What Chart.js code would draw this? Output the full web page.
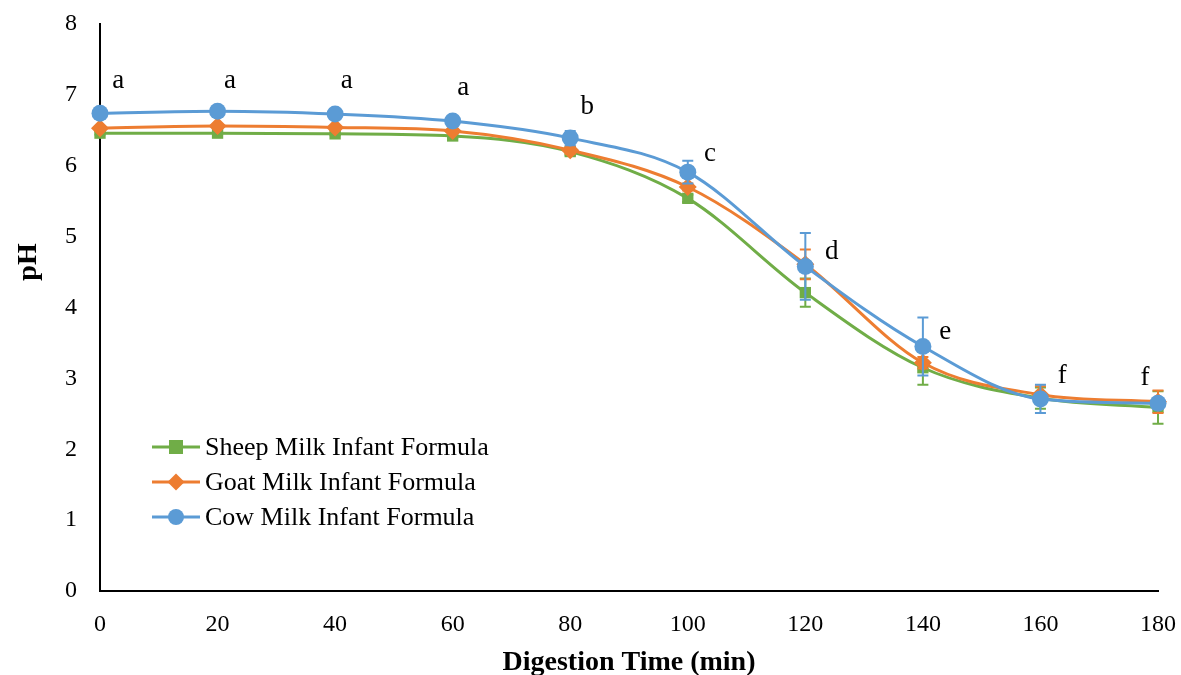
<!DOCTYPE html>
<html>
<head>
<meta charset="utf-8">
<script src="https://cdn.jsdelivr.net/npm/chart.js@4/dist/chart.umd.min.js"></script>
<style>
  html, body { margin: 0; padding: 0; background: #ffffff; }
  #wrap { width: 1181px; height: 675px; }
</style>
</head>
<body>
<div id="wrap"><canvas id="c" width="1181" height="675"></canvas></div>
<script>
// Digestion time points (min)
const times = [0, 20, 40, 60, 80, 100, 120, 140, 160, 180];

// Mean pH and standard deviation per formula
const sheepPH  = [6.46, 6.46, 6.45, 6.42, 6.20, 5.54, 4.21, 3.15, 2.72, 2.59];
const sheepErr = [0.02, 0.02, 0.02, 0.03, 0.05, 0.05, 0.20, 0.24, 0.15, 0.23];
const goatPH   = [6.53, 6.56, 6.54, 6.49, 6.22, 5.70, 4.61, 3.22, 2.77, 2.67];
const goatErr  = [0.02, 0.02, 0.02, 0.03, 0.05, 0.05, 0.21, 0.08, 0.12, 0.16];
const cowPH    = [6.74, 6.77, 6.73, 6.63, 6.39, 5.91, 4.58, 3.45, 2.71, 2.65];
const cowErr   = [0.03, 0.03, 0.03, 0.06, 0.10, 0.16, 0.47, 0.41, 0.20, 0.06];

// Significance letters and their baseline anchor (time, pH)
const letters     = ['a', 'a', 'a', 'a', 'b', 'c', 'd', 'e', 'f', 'f'];
const letterTime  = [3.1, 22.1, 42.0, 61.8, 82.9, 103.8, 124.5, 143.8, 163.7, 177.8];
const letterPH    = [7.10, 7.10, 7.10, 7.00, 6.73, 6.06, 4.68, 3.56, 2.94, 2.90];

const yTicks = [0, 1, 2, 3, 4, 5, 6, 7, 8];
const xTicks = [0, 20, 40, 60, 80, 100, 120, 140, 160, 180];

const FONT = '"Liberation Serif", "Times New Roman", serif';
const GREEN = '#70AD47', ORANGE = '#ED7D31', BLUE = '#5B9BD5';

function pts(ys) { return times.map((t, i) => ({ x: t, y: ys[i] })); }

// Vertical error bars with caps, drawn beneath each series' line and markers
const errorBars = {
  id: 'errorBars',
  beforeDatasetDraw(chart, args) {
    const ds = chart.data.datasets[args.index];
    if (!ds.err) return;
    const { ctx, scales: { x, y } } = chart;
    ctx.save();
    ctx.strokeStyle = ds.borderColor;
    ctx.lineWidth = 2;
    ds.data.forEach((p, i) => {
      const e = ds.err[i];
      const px = x.getPixelForValue(p.x);
      const top = y.getPixelForValue(p.y + e);
      const bot = y.getPixelForValue(p.y - e);
      ctx.beginPath();
      ctx.moveTo(px, top); ctx.lineTo(px, bot);
      ctx.moveTo(px - 5.5, top); ctx.lineTo(px + 5.5, top);
      ctx.moveTo(px - 5.5, bot); ctx.lineTo(px + 5.5, bot);
      ctx.stroke();
    });
    ctx.restore();
  }
};

// Letters marking significant differences, plus the rotated pH axis title
const annotations = {
  id: 'annotations',
  afterDatasetsDraw(chart) {
    const { ctx, scales: { x, y } } = chart;
    ctx.save();
    ctx.fillStyle = '#000';
    ctx.font = '27px ' + FONT;
    ctx.textAlign = 'center';
    ctx.textBaseline = 'alphabetic';
    letters.forEach((l, i) => {
      ctx.fillText(l, x.getPixelForValue(letterTime[i]), y.getPixelForValue(letterPH[i]));
    });
    ctx.translate(29, 262);
    ctx.rotate(-Math.PI / 2);
    ctx.font = 'bold 28px ' + FONT;
    ctx.textBaseline = 'middle';
    ctx.fillText('pH', 0, 0);
    ctx.restore();
  }
};

// Legend placed inside the plot area, lower left
const innerLegend = {
  id: 'innerLegend',
  afterDraw(chart) {
    const { ctx } = chart;
    const x0 = 152, x1 = 200, tx = 205;
    const rows = [447, 482, 517];
    ctx.save();
    chart.data.datasets.forEach((ds, i) => {
      const yy = rows[i];
      ctx.strokeStyle = ds.borderColor;
      ctx.lineWidth = 3;
      ctx.beginPath(); ctx.moveTo(x0, yy); ctx.lineTo(x1, yy); ctx.stroke();
      ctx.fillStyle = ds.borderColor;
      const cx = (x0 + x1) / 2;
      if (ds.pointStyle === 'rect') {
        ctx.fillRect(cx - 7, yy - 7, 14, 14);
      } else if (ds.pointStyle === 'rectRot') {
        ctx.beginPath();
        ctx.moveTo(cx, yy - 8.5); ctx.lineTo(cx + 8.5, yy); ctx.lineTo(cx, yy + 8.5); ctx.lineTo(cx - 8.5, yy);
        ctx.closePath(); ctx.fill();
      } else {
        ctx.beginPath(); ctx.arc(cx, yy, 8, 0, Math.PI * 2); ctx.fill();
      }
      ctx.fillStyle = '#000';
      ctx.font = '26px ' + FONT;
      ctx.textAlign = 'left';
      ctx.textBaseline = 'middle';
      ctx.fillText(ds.label, tx, yy + 1);
    });
    ctx.restore();
  }
};

function series(label, ys, err, color, style, radius, order) {
  return {
    label, data: pts(ys), err,
    borderColor: color, backgroundColor: color,
    borderWidth: 3,
    pointStyle: style, pointRadius: radius, pointHoverRadius: radius,
    pointBorderWidth: 0,
    cubicInterpolationMode: 'monotone',
    clip: false,
    order
  };
}

new Chart(document.getElementById('c'), {
  type: 'line',
  data: {
    datasets: [
      series('Sheep Milk Infant Formula', sheepPH, sheepErr, GREEN, 'rect', 8, 3),
      series('Goat Milk Infant Formula', goatPH, goatErr, ORANGE, 'rectRot', 9, 2),
      series('Cow Milk Infant Formula', cowPH, cowErr, BLUE, 'circle', 8.5, 1)
    ]
  },
  options: {
    responsive: false,
    animation: false,
    devicePixelRatio: 1,
    layout: { padding: { top: 24, right: 23, left: 0, bottom: 0 } },
    plugins: { legend: { display: false }, tooltip: { enabled: false } },
    scales: {
      x: {
        type: 'linear', min: 0, max: 180,
        afterBuildTicks(s) { s.ticks = xTicks.map(v => ({ value: v })); },
        afterFit(s) { s.height = 84; s.paddingLeft = 0; s.paddingRight = 0; },
        grid: { display: false, drawOnChartArea: false, drawTicks: true, tickLength: 7, tickColor: '#000', tickWidth: 2 },
        border: { display: true, color: '#000', width: 2 },
        ticks: { color: '#000', font: { family: FONT, size: 24 }, padding: 12, maxRotation: 0 },
        title: { display: true, text: 'Digestion Time (min)', color: '#000', font: { family: FONT, size: 28, weight: 'bold' }, padding: { top: 0, bottom: -5 } }
      },
      y: {
        min: 0, max: 8,
        afterBuildTicks(s) { s.ticks = yTicks.map(v => ({ value: v })); },
        afterFit(s) { s.width = 100; s.paddingTop = 0; s.paddingBottom = 0; },
        grid: { display: false, drawOnChartArea: false, drawTicks: true, tickLength: 7, tickColor: '#000', tickWidth: 2 },
        border: { display: true, color: '#000', width: 2 },
        ticks: { color: '#000', font: { family: FONT, size: 24 }, padding: 16 }
      }
    }
  },
  plugins: [errorBars, annotations, innerLegend]
});
</script>
</body>
</html>
